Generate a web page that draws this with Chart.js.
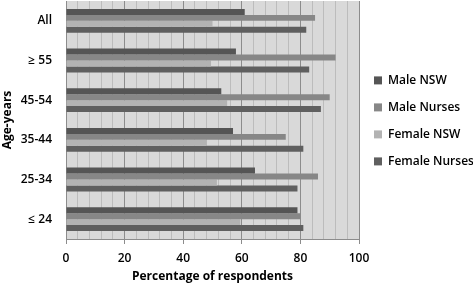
<!DOCTYPE html>
<html>
<head>
<meta charset="utf-8">
<script src="https://cdn.jsdelivr.net/npm/chart.js@4"></script>
<style>
  body { margin: 0; background: #fff; }
  #wrap { width: 473px; height: 283px; }
</style>
</head>
<body>
<div id="wrap"><canvas id="g1"></canvas></div>
<script>
//data
var ageGroups = ['All', '\u2265 55', '45-54', '35-44', '25-34', '\u2264 24'];
var maleNSW = [61, 58, 53, 57, 64.5, 79];
var maleNurses = [85, 92, 90, 75, 86, 80];
var femaleNSW = [50, 49.5, 55, 48, 51.5, 59.5];
var femaleNurses = [82, 83, 87, 81, 79, 81];
var seriesNames = ['Male NSW', 'Male Nurses', 'Female NSW', 'Female Nurses'];
var seriesColors = ['#555555', '#878787', '#b3b3b3', '#5f5f5f'];

//grey plot background
var plotBg = {
    id: 'plotBg',
    beforeDraw: function(chart) {
        var a = chart.chartArea;
        var c = chart.ctx;
        c.save();
        c.fillStyle = '#d9d9d9';
        c.fillRect(a.left, a.top, a.right - a.left, a.bottom - a.top);
        c.restore();
    }
};

var font = { family: '"Open Sans", sans-serif', size: 12, weight: '600' };
var titleFont = { family: '"Open Sans", sans-serif', size: 12, weight: 'bold' };
var values = [maleNSW, maleNurses, femaleNSW, femaleNurses];

var ctx = document.getElementById('g1');
var myChart = new Chart(ctx, {
    type: 'bar',
    data: {
        labels: ageGroups,
        datasets: values.map(function(v, i) {
            return {
                label: seriesNames[i],
                data: v,
                backgroundColor: seriesColors[i],
                barPercentage: 1,
                categoryPercentage: 0.6
            };
        })
    },
    options: {
        indexAxis: 'y',
        responsive: true,
        maintainAspectRatio: false,
        animation: false,
        layout: { padding: { top: 1, right: 0, left: 0, bottom: 0 } },
        plugins: {
            legend: {
                position: 'right',
                align: 'start',
                maxWidth: 114,
                title: { display: true, text: ' ', font: font, padding: { top: 44, bottom: 0 } },
                labels: {
                    font: font,
                    color: '#000',
                    boxWidth: 8,
                    boxHeight: 8,
                    padding: 15
                }
            },
            tooltip: { enabled: false }
        },
        scales: {
            x: {
                min: 0,
                max: 100,
                afterFit: function(s) { s.paddingLeft = 0; s.paddingRight = 0; s.height = 44; },
                ticks: {
                    stepSize: 4,
                    autoSkip: false,
                    maxRotation: 0,
                    color: '#000',
                    font: font,
                    padding: 7,
                    callback: function(v) { return v % 20 === 0 ? v : ''; }
                },
                grid: {
                    color: function(c) { return c.tick && c.tick.value % 20 === 0 ? '#8c8c8c' : '#bcbcbc'; },
                    tickColor: function(c) { return c.tick && c.tick.value % 20 === 0 ? '#8c8c8c' : 'rgba(0,0,0,0)'; },
                    tickLength: 5
                },
                border: { color: '#8c8c8c' },
                title: {
                    display: true,
                    text: 'Percentage of respondents',
                    color: '#000',
                    font: titleFont,
                    padding: { top: 1, bottom: -1 }
                }
            },
            y: {
                afterFit: function(s) { s.paddingTop = 0; s.paddingBottom = 0; s.width = 66; },
                grid: { display: false, drawTicks: false },
                border: { color: '#8c8c8c' },
                ticks: { color: '#000', font: font, padding: 14 },
                title: {
                    display: true,
                    text: 'Age-years',
                    color: '#000',
                    font: titleFont,
                    padding: { top: 0, bottom: 1 }
                }
            }
        }
    },
    plugins: [plotBg]
});
</script>
</body>
</html>
